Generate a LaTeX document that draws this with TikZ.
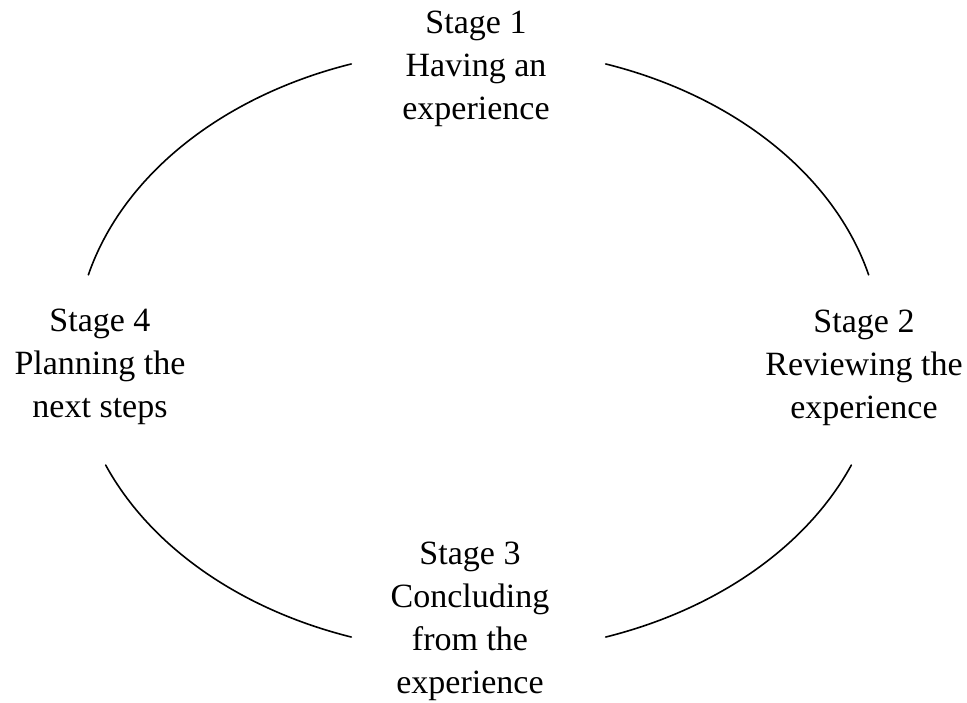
\documentclass[tikz,border=0pt]{standalone}
\usepackage{fontspec}
\setmainfont{Liberation Serif}
\begin{document}
\begin{tikzpicture}[x=1pt,y=1pt,
  stagelabel/.style={align=center,inner sep=0pt,anchor=base,
    font=\fontsize{34}{43}\selectfont},
  cyclearc/.style={line width=1.6pt,line cap=round}]
\useasboundingbox (0,0) rectangle (967,702);
\clip (0,0) rectangle (967,702);
\coordinate (c) at (478.5,351.5);
\node[stagelabel] (s1) at (476,582) {Stage 1\\Having an\\experience};
\node[stagelabel] (s2) at (864,283) {Stage 2\\Reviewing the\\experience};
\node[stagelabel] (s3) at (470,9) {Stage 3\\Concluding\\from the\\experience};
\node[stagelabel] (s4) at (100,284) {Stage 4\\Planning the\\next steps};
\draw[cyclearc] (c) ++(108.4:403 and 302) arc[start angle=108.4,end angle=165.5,x radius=403,y radius=302];
\draw[cyclearc] (c) ++(202.3:403 and 302) arc[start angle=202.3,end angle=251.6,x radius=403,y radius=302];
\draw[cyclearc] (c) ++(288.4:403 and 302) arc[start angle=288.4,end angle=337.7,x radius=403,y radius=302];
\draw[cyclearc] (c) ++(14.5:403 and 302) arc[start angle=14.5,end angle=71.6,x radius=403,y radius=302];
\end{tikzpicture}
\end{document}
